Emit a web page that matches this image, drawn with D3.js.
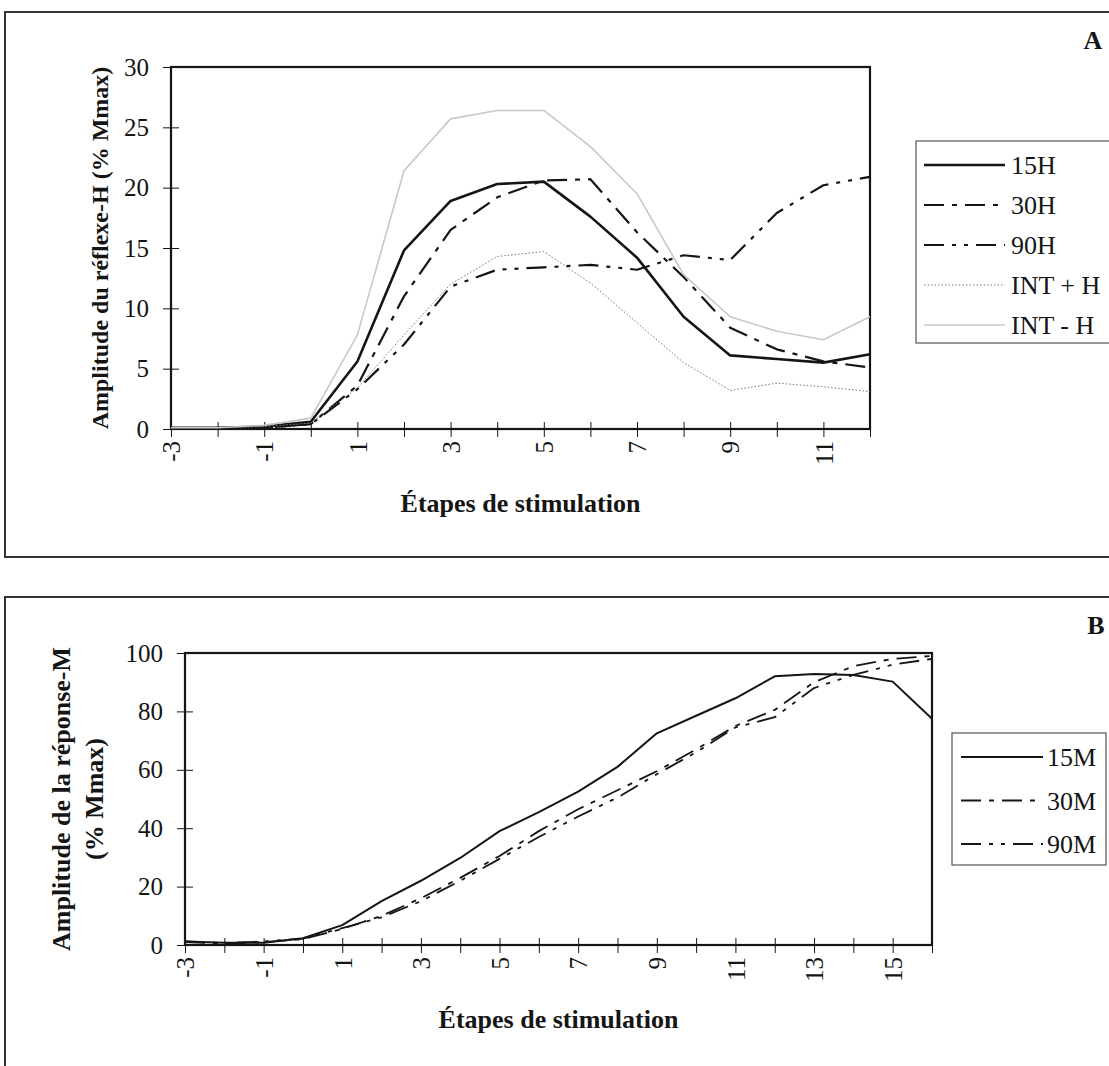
<!DOCTYPE html>
<html>
<head>
<meta charset="utf-8">
<script src="https://d3js.org/d3.v7.min.js"></script>
<style>
    html, body { margin: 0; padding: 0; background: #fff; }
    svg { display: block; font-family: "Liberation Serif", "Times New Roman", serif; }
</style>
</head>
<body>
<svg width="1109" height="1066"></svg>
<script>
    // ---- panel A : réflexe-H ----
    var stepsA = [-3, -2, -1, 0, 1, 2, 3, 4, 5, 6, 7, 8, 9, 10, 11, 12];
    var labelsA = [-3, -1, 1, 3, 5, 7, 9, 11];
    var yTicksA = [0, 5, 10, 15, 20, 25, 30];
    var h15 = [0.1, 0.1, 0.2, 0.6, 5.6, 14.8, 18.9, 20.3, 20.5, 17.6, 14.2, 9.3, 6.1, 5.8, 5.5, 6.2];
    var h30 = [0.0, 0.0, 0.1, 0.4, 3.6, 11.0, 16.5, 19.2, 20.6, 20.7, 16.3, 12.6, 8.4, 6.6, 5.6, 5.1];
    var h90 = [0.0, 0.0, 0.1, 0.4, 3.3, 7.0, 11.8, 13.2, 13.4, 13.6, 13.2, 14.4, 14.0, 17.9, 20.2, 20.9];
    var hIntPlus = [0.1, 0.1, 0.2, 0.5, 3.4, 7.8, 12.0, 14.3, 14.7, 12.1, 8.8, 5.5, 3.2, 3.8, 3.5, 3.1];
    var hIntMinus = [0.1, 0.1, 0.3, 0.9, 7.8, 21.4, 25.7, 26.4, 26.4, 23.4, 19.5, 12.8, 9.3, 8.1, 7.4, 9.3];

    // ---- panel B : réponse-M ----
    var stepsB = [-3, -2, -1, 0, 1, 2, 3, 4, 5, 6, 7, 8, 9, 10, 11, 12, 13, 14, 15, 16];
    var labelsB = [-3, -1, 1, 3, 5, 7, 9, 11, 13, 15];
    var yTicksB = [0, 20, 40, 60, 80, 100];
    var m15 = [1.2, 0.8, 0.8, 2.3, 6.8, 15.0, 22.0, 29.8, 39.0, 45.5, 52.5, 61.0, 72.5, 78.5, 84.5, 92.0, 92.8, 92.5, 90.2, 77.5];
    var m30 = [1.0, 0.5, 1.0, 2.0, 5.5, 10.0, 16.0, 23.0, 30.5, 39.0, 46.5, 53.0, 59.5, 67.0, 75.0, 80.5, 90.0, 95.5, 98.0, 99.0];
    var m90 = [1.2, 0.7, 1.2, 2.2, 5.8, 9.5, 15.0, 22.0, 29.5, 37.0, 44.0, 50.5, 58.5, 66.0, 74.5, 78.0, 88.0, 92.5, 96.0, 98.0];

    var ink = "#151515";
    var svg = d3.select("svg");

    // outer frames of the two figure parts
    svg.append("rect").attr("x", 5).attr("y", 12).attr("width", 1120).attr("height", 545)
        .attr("fill", "none").attr("stroke", "#333").attr("stroke-width", 2);
    svg.append("rect").attr("x", 5).attr("y", 597).attr("width", 1120).attr("height", 500)
        .attr("fill", "none").attr("stroke", "#333").attr("stroke-width", 2);

    function drawPanel(p) {
        var x = d3.scalePoint().domain(p.steps).range([p.left, p.right]);
        var y = d3.scaleLinear().domain([0, p.yMax]).range([p.bottom, p.top]);
        var g = svg.append("g");

        // y axis with crossing ticks
        var ya = g.append("g")
            .attr("transform", "translate(" + (p.left + 8) + ",0)")
            .call(d3.axisLeft(y).tickValues(p.yTicks).tickSize(16).tickPadding(2))
            .attr("font-family", null);
        ya.select(".domain").remove();
        ya.selectAll("line").attr("stroke", ink).attr("stroke-width", 1);
        ya.selectAll("text").attr("fill", ink).style("font-size", "25px")
            .attr("x", -(16 + 8 + 6));

        // x axis with crossing ticks, rotated labels
        var xa = g.append("g")
            .attr("transform", "translate(0," + (p.bottom - 7) + ")")
            .call(d3.axisBottom(x).tickSize(15)
                .tickFormat(function(d) { return p.labels.indexOf(d) >= 0 ? d : ""; }))
            .attr("font-family", null);
        xa.select(".domain").remove();
        xa.selectAll("line").attr("stroke", ink).attr("stroke-width", 1);
        xa.selectAll("text").attr("fill", ink).style("font-size", "25px")
            .attr("transform", "rotate(-90)")
            .attr("text-anchor", "end")
            .attr("x", -(7 + 12))
            .attr("y", 0)
            .attr("dy", "0.35em");

        // plot frame
        g.append("rect").attr("x", p.left).attr("y", p.top)
            .attr("width", p.right - p.left).attr("height", p.bottom - p.top)
            .attr("fill", "none").attr("stroke", ink).attr("stroke-width", 2.2);

        var line = d3.line()
            .x(function(d) { return x(d.s); })
            .y(function(d) { return y(d.v); });

        p.series.forEach(function(s) {
            var pts = p.steps.map(function(st, i) { return {s: st, v: s.values[i]}; });
            g.append("path")
                .attr("d", line(pts))
                .attr("fill", "none")
                .attr("stroke", s.color)
                .attr("stroke-width", s.width)
                .attr("stroke-dasharray", s.dash)
                .attr("stroke-linejoin", "round");
        });

        // legend
        var lg = p.legend;
        g.append("rect").attr("x", lg.x).attr("y", lg.y).attr("width", lg.w).attr("height", lg.h)
            .attr("fill", "#fff").attr("stroke", "#555").attr("stroke-width", 1.2);
        p.series.forEach(function(s, i) {
            var cy = lg.y + lg.first + i * lg.step;
            g.append("line").attr("x1", lg.x1).attr("x2", lg.x2).attr("y1", cy).attr("y2", cy)
                .attr("stroke", s.color).attr("stroke-width", s.width).attr("stroke-dasharray", s.dash);
            g.append("text").attr("x", lg.tx).attr("y", cy).attr("dy", "0.35em")
                .attr("fill", ink).style("font-size", "26px").text(s.name);
        });

        // axis titles
        g.append("text")
            .attr("x", (p.left + p.right) / 2).attr("y", p.xTitleY)
            .attr("text-anchor", "middle").attr("fill", ink)
            .style("font-size", "26px").style("font-weight", "bold")
            .text("Étapes de stimulation");
        p.yTitle.forEach(function(t) {
            g.append("text")
                .attr("transform", "translate(" + t.x + "," + ((p.top + p.bottom) / 2) + ") rotate(-90)")
                .attr("text-anchor", "middle").attr("dy", "0.35em").attr("fill", ink)
                .style("font-size", t.size + "px").style("font-weight", "bold")
                .text(t.text);
        });

        g.append("text").attr("x", p.tag.x).attr("y", p.tag.y)
            .attr("text-anchor", "middle").attr("fill", ink)
            .style("font-size", "26px").style("font-weight", "bold").text(p.tag.text);
    }

    drawPanel({
        steps: stepsA, labels: labelsA, yTicks: yTicksA, yMax: 30,
        left: 171, right: 870, top: 67, bottom: 429,
        xTitleY: 512,
        yTitle: [{x: 100, size: 24, text: "Amplitude du réflexe-H (% Mmax)"}],
        tag: {x: 1093, y: 49, text: "A"},
        legend: {x: 916, y: 141, w: 210, h: 202, first: 24, step: 40, x1: 924, x2: 1005, tx: 1011},
        series: [
            {name: "15H", values: h15, color: ink, width: 2.6, dash: null},
            {name: "30H", values: h30, color: ink, width: 2.2, dash: "20,8,5,8"},
            {name: "90H", values: h90, color: ink, width: 2.2, dash: "20,8,4,8,4,8"},
            {name: "INT + H", values: hIntPlus, color: "#777", width: 1, dash: "1.5,2"},
            {name: "INT - H", values: hIntMinus, color: "#c8c8c8", width: 1.6, dash: null}
        ]
    });

    drawPanel({
        steps: stepsB, labels: labelsB, yTicks: yTicksB, yMax: 100,
        left: 185, right: 932, top: 653, bottom: 945,
        xTitleY: 1028,
        yTitle: [
            {x: 61, size: 26, text: "Amplitude de la réponse-M"},
            {x: 94, size: 26, text: "(% Mmax)"}
        ],
        tag: {x: 1096, y: 634, text: "B"},
        legend: {x: 952, y: 733, w: 154, h: 132, first: 24, step: 43.5, x1: 961, x2: 1043, tx: 1047},
        series: [
            {name: "15M", values: m15, color: ink, width: 2, dash: null},
            {name: "30M", values: m30, color: ink, width: 1.8, dash: "20,8,5,8"},
            {name: "90M", values: m90, color: ink, width: 1.8, dash: "20,8,4,8,4,8"}
        ]
    });
</script>
</body>
</html>
